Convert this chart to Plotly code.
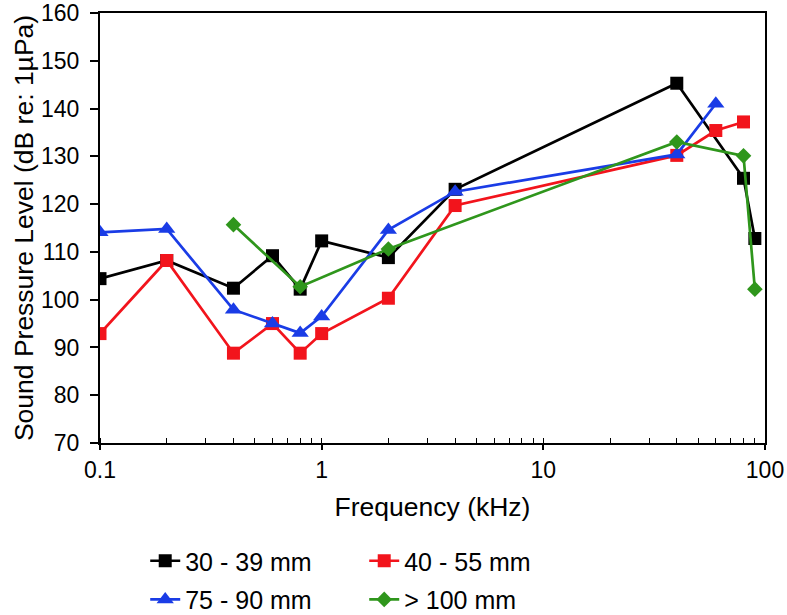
import plotly.graph_objects as go

# Frequencies (kHz) and sound pressure levels (dB re: 1 µPa)
freq_30_39 = [0.1, 0.2, 0.4, 0.6, 0.8, 1, 2, 4, 40, 80, 90]
spl_30_39 = [104.4, 108.2, 102.4, 109.2, 102.2, 112.3, 108.8, 123.1, 145.3, 125.4, 112.8]

freq_40_55 = [0.1, 0.2, 0.4, 0.6, 0.8, 1, 2, 4, 40, 60, 80]
spl_40_55 = [92.9, 108.2, 88.8, 95.0, 88.8, 92.9, 100.3, 119.7, 130.2, 135.4, 137.2]

freq_75_90 = [0.1, 0.2, 0.4, 0.6, 0.8, 1, 2, 4, 40, 60]
spl_75_90 = [114.1, 114.8, 97.9, 95.0, 93.0, 96.5, 114.6, 122.6, 130.4, 141.0]

freq_100 = [0.4, 0.8, 2, 40, 80, 90]
spl_100 = [115.7, 102.7, 110.6, 133.0, 130.1, 102.2]

names = ["30 - 39 mm", "40 - 55 mm", "75 - 90 mm", "> 100 mm"]
x_tick_vals = [0.1, 1, 10, 100]
x_tick_text = ["0.1", "1", "10", "100"]

FONT = "Liberation Sans, Arial, Helvetica, sans-serif"

fig = go.Figure()
fig.add_trace(go.Scatter(x=freq_30_39, y=spl_30_39, name=names[0], mode="lines+markers",
                         line=dict(color="#000000", width=2.7),
                         marker=dict(symbol="square", size=13, color="#000000"), legend="legend"))
fig.add_trace(go.Scatter(x=freq_40_55, y=spl_40_55, name=names[1], mode="lines+markers",
                         line=dict(color="#f2141c", width=2.7),
                         marker=dict(symbol="square", size=13, color="#f2141c"), legend="legend"))
fig.add_trace(go.Scatter(x=freq_75_90, y=spl_75_90, name=names[2], mode="lines+markers",
                         line=dict(color="#1a3ce6", width=2.7),
                         marker=dict(symbol="triangle-up", size=15, color="#1a3ce6"), legend="legend2"))
fig.add_trace(go.Scatter(x=freq_100, y=spl_100, name=names[3], mode="lines+markers",
                         line=dict(color="#2f961c", width=2.7),
                         marker=dict(symbol="diamond", size=12, color="#2f961c"), legend="legend2"))

leg_common = dict(orientation="h", xanchor="left", yanchor="middle", yref="container",
                  entrywidth=174, entrywidthmode="pixels", font=dict(size=25, family=FONT),
                  bgcolor="rgba(0,0,0,0)", itemclick=False, itemdoubleclick=False)

fig.update_layout(
    width=787, height=615,
    margin=dict(l=100, r=22, t=13, b=172),
    paper_bgcolor="white", plot_bgcolor="white",
    font=dict(family=FONT, color="black", size=23),
    showlegend=True,
    legend=dict(x=0.068, y=0.0878, **leg_common),
    legend2=dict(x=0.068, y=0.025, **leg_common),
)

fig.update_xaxes(type="log", range=[-1, 2], showgrid=False, zeroline=False, automargin=False,
                 showline=True, linecolor="black", linewidth=2, mirror=True,
                 ticks="outside", ticklen=5, tickwidth=1.5, tickcolor="black",
                 tickvals=x_tick_vals, ticktext=x_tick_text,
                 tickfont=dict(size=23, family=FONT),
                 minor=dict(ticks="inside", ticklen=5, tickwidth=1.2, tickcolor="black", dtick="D1", showgrid=False),
                 title=dict(text="Frequency (kHz)", font=dict(size=26.5, family=FONT), standoff=16))
fig.update_yaxes(range=[70, 160], dtick=10, showgrid=False, zeroline=False, automargin=False,
                 showline=True, linecolor="black", linewidth=2, mirror=True,
                 ticks="outside", ticklen=8, tickwidth=1.5, tickcolor="black",
                 ticklabelstandoff=6,
                 tickfont=dict(size=23, family=FONT),
                 title=dict(text="Sound Pressure Level (dB re: 1µPa)", font=dict(size=26.5, family=FONT), standoff=0))

fig.write_html("out.html", config={"displayModeBar": False},
               post_script="document.body.style.margin='0';")
